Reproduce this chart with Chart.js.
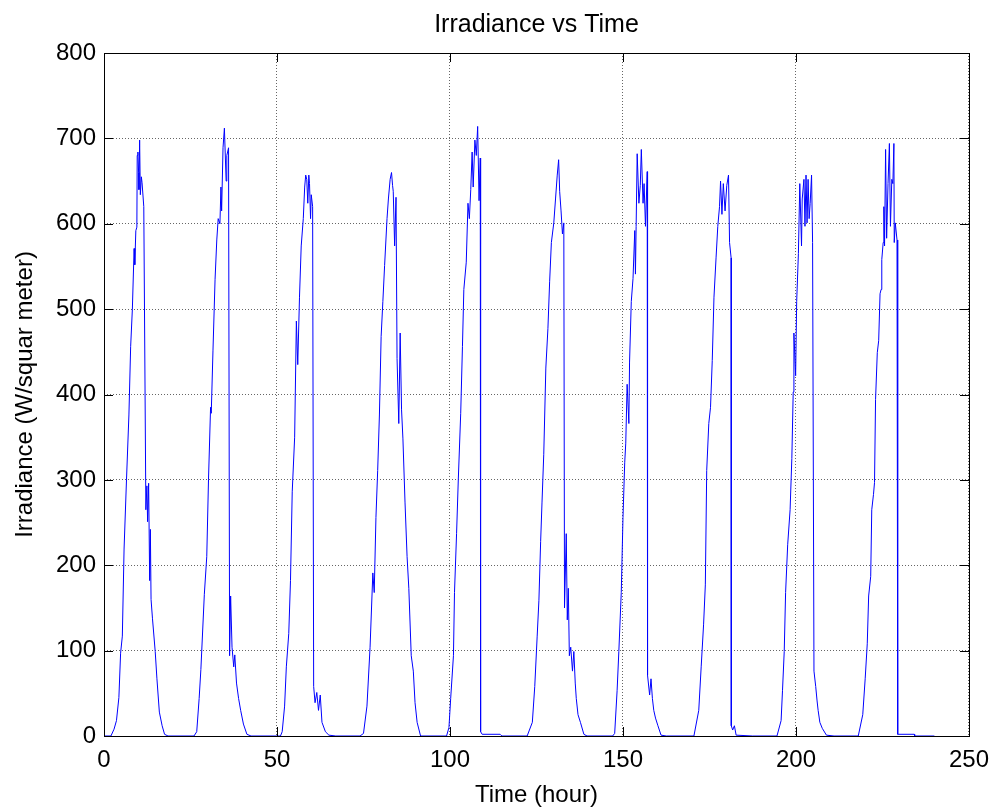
<!DOCTYPE html>
<html lang="en">
<head>
  <meta charset="UTF-8">
  <title>Irradiance vs Time</title>
  <script src="https://cdn.jsdelivr.net/npm/chart.js"></script>
  <style>
    html, body { margin: 0; padding: 0; background: #fff; }
  </style>
</head>
<body>
  <canvas id="irrChart" width="999" height="808"></canvas>

  <script>
    // Time (hour), one line per day
    const hours = [
      0, 2.0, 2.9, 3.6, 4.3, 4.8, 5.3, 5.8, 6.5, 7.2, 7.7, 8.2, 8.7, 8.9, 9.2, 9.5, 9.6, 9.8, 10.0, 10.1, 10.3, 10.5, 10.8, 11.0, 11.5, 12.1, 12.4, 12.6, 12.9, 13.2, 13.4, 13.6, 14.0, 14.8, 15.3, 16.0, 16.8, 17.5, 18.5,
      26.0, 26.8, 27.5, 28.0, 29.0, 29.7, 30.2, 30.8, 31.0, 31.5, 32.1, 32.6, 33.0, 33.5, 33.8, 34.0, 34.4, 34.8, 35.3, 35.5, 36.0, 36.3, 36.6, 37.0, 37.5, 37.8, 38.3, 38.9, 39.5, 40.3, 41.3, 42.5,
      51.0, 51.5, 52.2, 52.7, 53.4, 53.9, 54.4, 55.1, 55.6, 56.0, 56.5, 57.0, 57.6, 58.0, 58.3, 58.6, 58.9, 59.2, 59.4, 59.7, 59.9, 60.3, 60.6, 61.0, 61.5, 62.0, 62.5, 63.0, 64.0, 65.0, 67.0,
      74.0, 75.0, 76.0, 76.9, 77.7, 78.1, 78.6, 79.1, 79.6, 80.1, 80.6, 81.1, 81.8, 82.2, 82.7, 83.1, 83.4, 83.6, 84.0, 84.4, 84.7, 85.2, 85.6, 86.0, 86.4, 87.0, 87.6, 88.1, 88.8, 89.4, 89.9, 90.5, 91.5,
      99.0, 99.7, 100.2, 101.0, 101.3, 101.9, 102.4, 103.1, 103.6, 104.0, 104.7, 105.2, 105.6, 106.0, 106.4, 106.7, 107.2, 107.6, 108.0, 108.4, 108.75, 108.85, 109.3, 114.5, 115.0,
      122.3, 123.8, 124.5, 125.2, 125.7, 126.2, 126.6, 127.1, 127.7, 128.3, 128.8, 129.3, 130.0, 130.5, 131.0, 131.4, 131.7, 132.1, 132.5, 132.9, 133.1, 133.6, 133.9, 134.2, 134.5, 134.9, 135.4, 135.8, 136.2, 136.5, 137.0, 137.7, 138.7, 139.6,
      147.0, 147.6, 148.3, 148.8, 149.5, 150.0, 150.5, 150.8, 151.2, 151.7, 151.9, 152.4, 152.9, 153.4, 153.6, 153.8, 154.1, 154.6, 155.0, 155.3, 155.8, 156.1, 156.5, 157.0, 157.1, 157.7, 158.1, 158.5, 158.9, 159.4, 160.1, 161.0, 162.5,
      170.5, 171.9, 172.6, 173.3, 173.8, 174.2, 174.8, 175.3, 175.8, 176.3, 176.9, 177.4, 177.9, 178.2, 178.6, 179.0, 179.5, 180.0, 180.5, 180.8, 181.25, 181.3, 181.7, 182.2, 182.7, 187.5,
      194.5, 195.7, 196.1, 196.6, 197.0, 197.6, 198.3, 198.8, 199.2, 199.4, 199.9, 200.2, 200.7, 201.1, 201.6, 201.8, 202.3, 202.6, 202.9, 203.2, 203.5, 203.8, 204.1, 204.5, 204.8, 205.2, 205.7, 206.1, 206.4, 206.9, 207.6, 208.8, 211.0,
      218.0, 219.3, 220.0, 220.6, 221.0, 221.6, 221.9, 222.4, 222.7, 223.0, 223.5, 223.9, 224.3, 224.6, 224.8, 225.2, 225.4, 225.6, 225.9, 226.2, 226.6, 227.0, 227.3, 227.7, 228.0, 228.3, 228.4, 228.7, 229.2, 229.4, 234.2, 234.3, 240.0
    ];

    // Irradiance (W/m^2), same layout as hours
    const irradiance = [
      0, 0, 8, 18, 45, 97, 117, 219, 300, 376, 456, 500, 571, 552, 592, 596, 680, 684, 660, 640, 698, 634, 655, 648, 620, 265, 293, 251, 296, 182, 242, 160, 138, 99, 67, 28, 12, 2, 0,
      0, 5, 44, 78, 166, 210, 300, 385, 378, 452, 535, 581, 606, 600, 643, 615, 689, 712, 650, 680, 689, 94, 164, 104, 81, 95, 62, 44, 30, 14, 2, 0,
      0, 5, 35, 81, 120, 182, 286, 350, 486, 435, 514, 574, 606, 643, 657, 652, 624, 657, 647, 606, 634, 620, 58, 39, 51, 30, 48, 16, 5, 1, 0,
      0, 3, 35, 104, 191, 168, 256, 311, 376, 468, 509, 551, 606, 629, 652, 660, 645, 638, 574, 631, 442, 366, 472, 382, 348, 274, 210, 173, 94, 76, 39, 16, 0,
      0, 10, 44, 94, 168, 237, 300, 378, 456, 523, 555, 624, 606, 640, 684, 643, 698, 680, 714, 627, 677, 5, 2, 2, 0,
      0, 16, 58, 117, 159, 228, 274, 330, 431, 477, 532, 578, 601, 629, 657, 675, 638, 615, 588, 601, 150, 237, 136, 173, 94, 104, 76, 99, 62, 44, 25, 16, 2, 0,
      0, 3, 53, 99, 168, 256, 320, 343, 412, 366, 438, 509, 536, 592, 541, 597, 682, 624, 645, 687, 624, 647, 597, 661, 71, 48, 67, 44, 30, 21, 12, 1, 0,
      0, 30, 81, 131, 177, 311, 366, 385, 440, 514, 560, 597, 620, 650, 611, 647, 615, 645, 657, 578, 560, 12, 7, 12, 1, 0,
      0, 18, 53, 99, 168, 224, 265, 325, 403, 472, 422, 509, 565, 647, 574, 629, 652, 597, 657, 601, 652, 606, 624, 657, 578, 76, 58, 41, 30, 16, 9, 1, 0,
      0, 25, 67, 108, 164, 187, 265, 283, 297, 394, 449, 463, 518, 523, 558, 578, 620, 574, 687, 583, 647, 694, 597, 652, 647, 694, 578, 601, 581, 2, 2, 0, 0
    ];

    const xTicks = [0, 50, 100, 150, 200, 250];
    const yTicks = [0, 100, 200, 300, 400, 500, 600, 700, 800];
    const chartTitle = 'Irradiance vs Time';

    const FONT = "'Liberation Sans', Arial, sans-serif";

    // MATLAB-like box, inward tick marks on all four sides, title centred on the axes
    const boxTicks = {
      id: 'boxTicks',
      afterDraw(chart) {
        const { ctx, chartArea: a, scales: { x, y } } = chart;
        const len = 9;
        ctx.save();
        ctx.strokeStyle = '#000';
        ctx.lineWidth = 1;
        ctx.beginPath();
        xTicks.forEach(v => {
          const px = Math.round(x.getPixelForValue(v)) + 0.5;
          ctx.moveTo(px, a.bottom); ctx.lineTo(px, a.bottom - len);
          ctx.moveTo(px, a.top); ctx.lineTo(px, a.top + len);
        });
        yTicks.forEach(v => {
          const py = Math.round(y.getPixelForValue(v)) + 0.5;
          ctx.moveTo(a.left, py); ctx.lineTo(a.left + len, py);
          ctx.moveTo(a.right, py); ctx.lineTo(a.right - len, py);
        });
        ctx.stroke();
        ctx.strokeRect(Math.round(a.left) + 0.5, Math.round(a.top) + 0.5,
                       Math.round(a.right - a.left), Math.round(a.bottom - a.top));

        ctx.fillStyle = '#000';
        ctx.font = '25px ' + FONT;
        ctx.textAlign = 'center';
        ctx.textBaseline = 'middle';
        ctx.fillText(chartTitle, (a.left + a.right) / 2, 25);
        ctx.restore();
      }
    };

    const ctx = document.getElementById('irrChart').getContext('2d');
    new Chart(ctx, {
      type: 'line',
      data: {
        datasets: [{
          label: 'Irradiance',
          data: hours.map((h, i) => ({ x: h, y: irradiance[i] })),
          borderColor: '#0000ff',
          borderWidth: 1,
          pointRadius: 0,
          tension: 0,
          fill: false
        }]
      },
      options: {
        responsive: false,
        animation: false,
        devicePixelRatio: 1,
        layout: { padding: { left: 0, right: 28, top: 53, bottom: 0 } },
        plugins: {
          legend: { display: false },
          tooltip: { enabled: false },
          title: { display: false }
        },
        scales: {
          x: {
            type: 'linear',
            min: 0,
            max: 250,
            afterBuildTicks: s => { s.ticks = xTicks.map(v => ({ value: v })); },
            afterFit: s => { s.height = 72; },
            ticks: { color: '#000', font: { family: FONT, size: 24 }, padding: 10, maxRotation: 0 },
            grid: { color: 'rgba(0,0,0,0.6)', lineWidth: 1, drawTicks: false },
            border: { display: false, dash: [1, 2] },
            title: {
              display: true,
              text: 'Time (hour)',
              color: '#000',
              font: { family: FONT, size: 24, lineHeight: 1 },
              padding: { top: 0, bottom: 1 }
            }
          },
          y: {
            min: 0,
            max: 800,
            afterBuildTicks: s => { s.ticks = yTicks.map(v => ({ value: v })); },
            afterFit: s => { s.width = 104; },
            ticks: { color: '#000', font: { family: FONT, size: 24 }, padding: 8 },
            grid: { color: 'rgba(0,0,0,0.6)', lineWidth: 1, drawTicks: false },
            border: { display: false, dash: [1, 2] },
            title: {
              display: true,
              text: 'Irradiance (W/squar meter)',
              color: '#000',
              font: { family: FONT, size: 24, lineHeight: 1.2 },
              padding: { top: 11, bottom: 0 }
            }
          }
        }
      },
      plugins: [boxTicks]
    });
  </script>
</body>
</html>
